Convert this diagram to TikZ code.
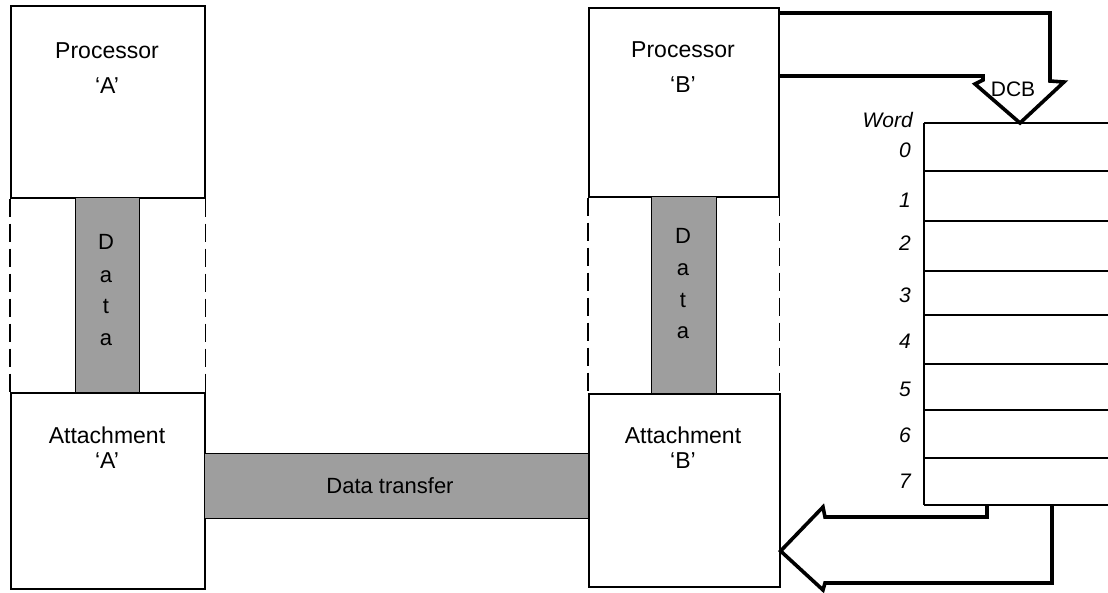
\documentclass[tikz,border=0pt]{standalone}
\usepackage{fontspec}
\setmainfont{Liberation Sans}
\begin{document}
\begin{tikzpicture}[x=1pt,y=-1pt,
  unit/.style={draw, line width=1.6pt, inner sep=0pt, anchor=north west},
  bar/.style={draw, line width=1.4pt, fill=black!38, inner sep=0pt, anchor=north west},
  link/.style={line width=1.6pt, dash pattern=on 18pt off 7pt},
  grid/.style={line width=1.6pt},
  flow/.style={line width=3.6pt, line join=miter, line cap=butt},
  txt/.style={font=\fontsize{23}{23}\selectfont, inner sep=0pt, anchor=base},
  ltr/.style={font=\fontsize{22}{22}\selectfont, inner sep=0pt, anchor=base},
  idx/.style={font=\fontsize{21}{21}\selectfont\itshape, inner sep=0pt, anchor=base east}]
\useasboundingbox (0,0) rectangle (1108,592);

% processors and attachments
\node[unit, minimum width=194pt, minimum height=192pt] (procA) at (10,5) {};
\node[unit, minimum width=190pt, minimum height=189pt] (procB) at (588,7) {};
\node[unit, minimum width=194pt, minimum height=196pt] (attA) at (10,392) {};
\node[unit, minimum width=191pt, minimum height=193pt] (attB) at (588,393) {};

% dashed sides between processor and attachment
\draw[link] (procA.south west) -- (attA.north west);
\draw[link] (procA.south east) -- (attA.north east);
\draw[link] (procB.south west) -- (attB.north west);
\draw[link] (procB.south east) -- (procB.south east |- attB.north);

% shaded data paths
\node[bar, minimum width=64pt, minimum height=195pt] (dataA) at (75,197) {};
\node[bar, minimum width=65pt, minimum height=197pt] (dataB) at (651,196) {};
\node[bar, minimum width=384pt, minimum height=65pt] (xfer) at (204,453) {};

% box labels
\node[txt] (pA1) at (107,58) {Processor};
\node[txt] (pA2) at (107,93) {`A'};
\node[txt] (aA1) at (107,443) {Attachment};
\node[txt] (aA2) at (107,468) {`A'};
\node[txt] (pB1) at (683,57) {Processor};
\node[txt] (pB2) at (683,92) {`B'};
\node[txt] (aB1) at (683,443) {Attachment};
\node[txt] (aB2) at (683,468) {`B'};
\node[ltr] (xl) at (390,493) {Data transfer};

% vertical "Data" lettering
\node[ltr] (dA1) at (106,249) {D};
\node[ltr] (dA2) at (106,282) {a};
\node[ltr] (dA3) at (106,313) {t};
\node[ltr] (dA4) at (106,345) {a};
\node[ltr] (dB1) at (683,243) {D};
\node[ltr] (dB2) at (683,275) {a};
\node[ltr] (dB3) at (683,307) {t};
\node[ltr] (dB4) at (683,338) {a};

% device control block table
\draw[grid] (924,123) -- (924,505);
\foreach \yy in {123,171,221,271,315,364,410,458,505}
  \draw[grid] (924,\yy) -- (1108,\yy);
\node[idx] (wd) at (913,127) {Word};
\foreach \n/\yb in {0/157,1/207,2/250,3/302,4/348,5/396,6/442,7/488}
  \node[idx] (w\n) at (911,\yb) {\n};

% block arrow from processor B into the table
\draw[flow] (procB.east |- 0,13) -- (1050,13) -- (1050,81) -- (1064,82)
  -- (1020,123) -- (975,84) -- (983,80) -- (983,76) -- (procB.east |- 0,76);
\node[font=\fontsize{21}{21}\selectfont, inner sep=0pt, anchor=base] (dcb) at (1013,96) {DCB};

% block arrow from the table back to attachment B
\draw[flow] (987,505) -- (987,517) -- (825,517) -- (823,507) -- (attB.east |- 0,551)
  -- (823,590) -- (825,583) -- (1052,583) -- (1052,505);
\end{tikzpicture}
\end{document}
